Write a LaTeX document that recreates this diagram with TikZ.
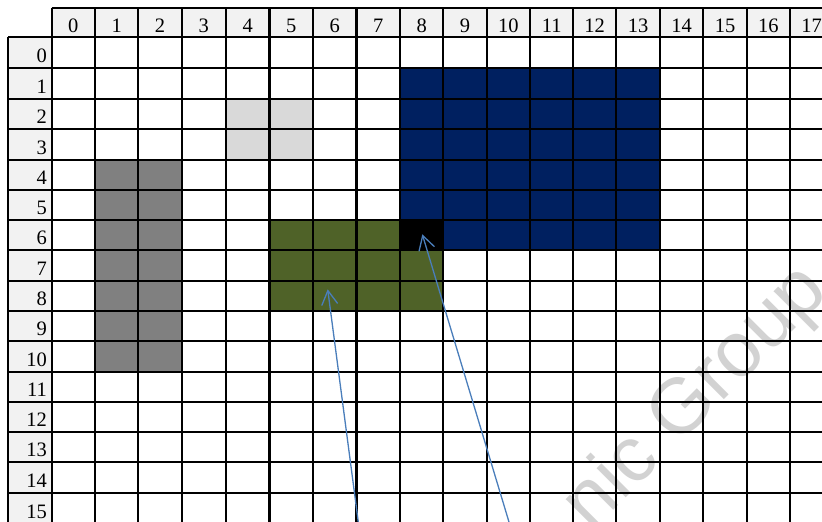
\documentclass[tikz,border=0pt]{standalone}
\usepackage{fontspec}
\setmainfont{Liberation Serif}
\newfontfamily\wmfont{Liberation Sans}
\usetikzlibrary{arrows.meta}
\definecolor{hdrfill}{HTML}{F2F2F2}
\definecolor{navyfill}{HTML}{002060}
\definecolor{olivefill}{HTML}{4F6228}
\definecolor{darkgrayfill}{HTML}{808080}
\definecolor{lightgrayfill}{HTML}{D9D9D9}
\definecolor{arrowblue}{HTML}{4A7EBB}
\def\cx{{51.7,95,138.3,181.7,226,269.5,313,356.5,400,443.3,486.7,530,573.3,616,660,703.3,746.7,790,833.4}}
\def\ry{{37.3,68.3,99,129.3,160,190,220,250,280.7,311.3,341.3,371.7,401.7,431.7,462.3,493.3,523.7}}
\newcommand\cellfill[5]{%
  \pgfmathtruncatemacro\cnext{#4+1}%
  \pgfmathtruncatemacro\rnext{#5+1}%
  \pgfmathsetmacro\xa{\cx[#2]}\pgfmathsetmacro\xb{\cx[\cnext]}%
  \pgfmathsetmacro\ya{\ry[#3]}\pgfmathsetmacro\yb{\ry[\rnext]}%
  \fill[#1] (\xa,\ya) rectangle (\xb,\yb);}
\tikzset{
  gridline/.style={draw=black, line width=2.2pt},
  hdrlabel/.style={font=\fontsize{20.5}{24}\selectfont, inner sep=0pt},
  pointer/.style={draw=arrowblue, line width=1.3pt, -{Straight Barb[length=14pt,width=16pt]}},
  watermark/.style={text=gray!35, font=\wmfont\fontsize{78}{86}\selectfont, inner sep=0pt}
}
\begin{document}
\begin{tikzpicture}[x=1pt,y=-1pt]
\useasboundingbox (0,0) rectangle (822,522);
\fill[white] (0,0) rectangle (822,522);
% header fills
\fill[hdrfill] (51.7,8) rectangle (833.4,37.3);
\fill[hdrfill] (8,37.3) rectangle (51.7,523.7);
% cell fills
\cellfill{lightgrayfill}{4}{2}{5}{3}
\cellfill{darkgrayfill}{1}{4}{2}{10}
\cellfill{navyfill}{8}{1}{13}{5}
\cellfill{navyfill}{9}{6}{13}{6}
\cellfill{black}{8}{6}{8}{6}
\cellfill{olivefill}{5}{6}{7}{8}
\cellfill{olivefill}{8}{7}{8}{8}
% watermark
\node[watermark, rotate=45, anchor=base] (wm) at (711,413) {nic Group};
% grid lines
\foreach \i in {0,...,18}{
  \pgfmathsetmacro\xx{\cx[\i]}
  \draw[gridline] (\xx,8) -- (\xx,523.7);
}
\draw[gridline] (8,37.3) -- (8,523.7);
\foreach \j in {0,...,16}{
  \pgfmathsetmacro\yy{\ry[\j]}
  \draw[gridline] (8,\yy) -- (833.4,\yy);
}
\draw[gridline] (51.7,8) -- (833.4,8);
% labels
\foreach \i in {0,...,17}{
  \pgfmathtruncatemacro\inext{\i+1}
  \pgfmathsetmacro\xl{\cx[\i]}
  \pgfmathsetmacro\xr{\cx[\inext]}
  \pgfmathsetmacro\xm{(\xl+\xr)/2}
  \node[hdrlabel, anchor=base] (col\i) at (\xm,32) {\i};
}
\foreach \j in {0,...,15}{
  \pgfmathtruncatemacro\jnext{\j+1}
  \pgfmathsetmacro\yr{\ry[\jnext]}
  \pgfmathsetmacro\yb{\yr-5.5}
  \node[hdrlabel, anchor=base east] (row\j) at (47,\yb) {\j};
}
% pointers
\coordinate (tailA) at (358.3,522);
\coordinate (tipA) at (327.7,289.3);
\coordinate (tailB) at (509,522);
\coordinate (tipB) at (422.3,234.3);
\draw[pointer] (tailA) -- (tipA);
\draw[pointer] (tailB) -- (tipB);
\end{tikzpicture}
\end{document}
